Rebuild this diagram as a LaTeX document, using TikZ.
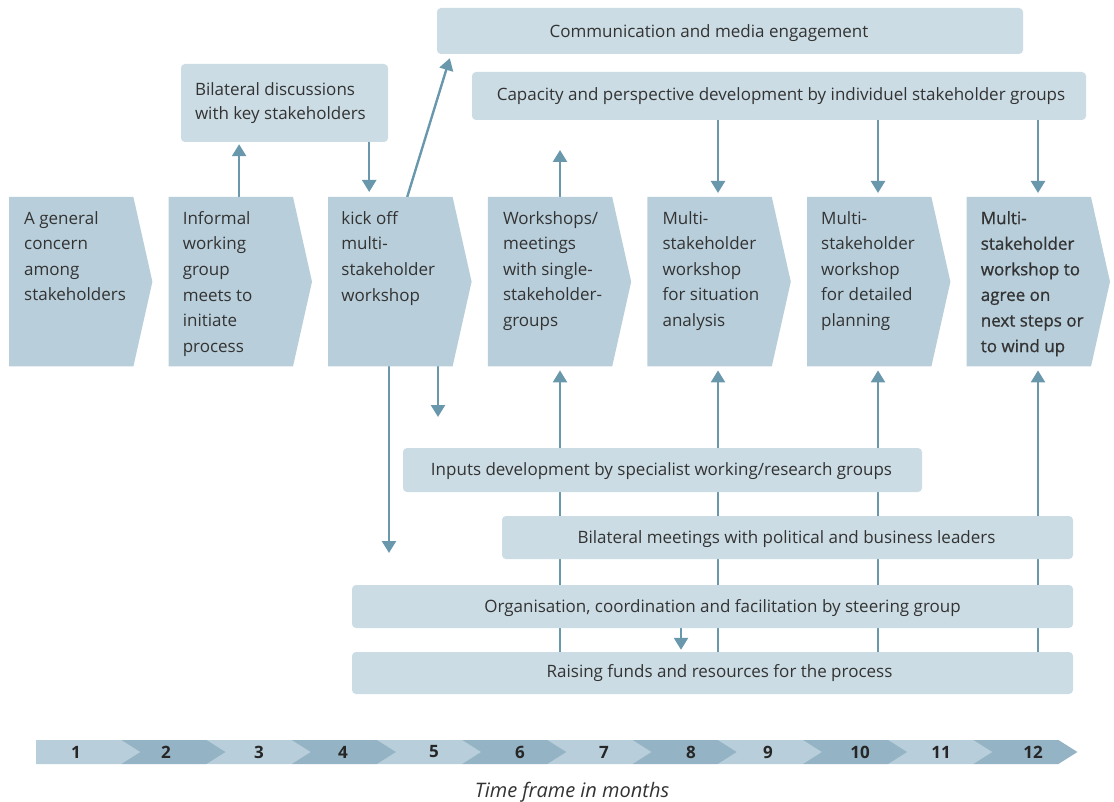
\documentclass[tikz,border=0pt]{standalone}
\usepackage{fontspec}
\setmainfont{Open Sans}
\newfontfamily\medfont[FakeBold=0.8]{Open Sans}
\usetikzlibrary{arrows.meta,calc}
\definecolor{chevfill}{HTML}{B8CEDA}
\definecolor{boxfill}{HTML}{CBDCE4}
\definecolor{tldark}{HTML}{94B3C4}
\definecolor{arrowcol}{HTML}{6998AC}
\definecolor{txt}{HTML}{333333}
\pgfdeclarelayer{background}
\pgfsetlayers{background,main}

\begin{document}
\begin{tikzpicture}[x=1pt,y=-1pt,
  font=\fontsize{17}{25.6}\selectfont, text=txt,
  chev/.style={minimum width=124pt, minimum height=169pt, inner sep=0pt, anchor=north west},
  chevtext/.style={anchor=north west, inner sep=0pt, align=left},
  bar/.style={fill=boxfill, rounded corners=4pt, inner sep=0pt},
  bartext/.style={inner sep=0pt},
  arr/.style={draw=arrowcol, line width=2.4pt, -{Triangle[width=14pt,length=12pt]}},
  tlnum/.style={font=\fontsize{17}{20}\selectfont\bfseries, text=black!85},
]
\useasboundingbox (0,0) rectangle (1114,802);

% process chevrons
\foreach \i/\lx in {1/9,2/168.6,3/328.2,4/487.8,5/647.4,6/807,7/966.6}{
  \node[chev] (c\i) at (\lx,197) {};
  \fill[chevfill] (c\i.north west) -- (c\i.north east) -- ($(c\i.east)+(19,0)$)
     -- (c\i.south east) -- (c\i.south west) -- cycle;
}
\node[chevtext] (t1) at ($(c1.north west)+(15,14)$) {A general\\concern\\among\\stakeholders};
\node[chevtext] (t2) at ($(c2.north west)+(14,14)$) {Informal\\working\\group\\meets to\\initiate\\process};
\node[chevtext] (t3) at ($(c3.north west)+(13,14)$) {kick off\\multi-\\stakeholder\\workshop};
\node[chevtext] (t4) at ($(c4.north west)+(15,14)$) {Workshops/\\meetings\\with single-\\stakeholder-\\groups};
\node[chevtext] (t5) at ($(c5.north west)+(15,14)$) {Multi-\\stakeholder\\workshop\\for situation\\analysis};
\node[chevtext] (t6) at ($(c6.north west)+(14,14)$) {Multi-\\stakeholder\\workshop\\for detailed\\planning};
\node[chevtext, font=\fontsize{17}{25.6}\selectfont\medfont] (t7) at ($(c7.north west)+(14,14)$) {Multi-\\stakeholder\\workshop to\\agree on\\next steps or\\to wind up};

% activity bars
\node[bar, minimum width=586pt, minimum height=46pt] (comm) at (730,31) {};
\node[bartext] at ($(comm.center)+(-21,2)$) {Communication and media engagement};
\node[bar, minimum width=614pt, minimum height=48pt] (cap) at (779,96) {};
\node[bartext] at ($(cap.center)+(2,0)$) {Capacity and perspective development by individuel stakeholder groups};
\node[bar, minimum width=207pt, minimum height=78pt] (bilat) at (284.5,103) {};
\node[bartext, anchor=west, align=left] at ($(bilat.west)+(14,0)$) {Bilateral discussions\\[-1pt]with key stakeholders};
\node[bar, minimum width=519pt, minimum height=44pt] (inputs) at (662.5,470) {};
\node[bartext] at ($(inputs.center)+(-1,1)$) {Inputs development by specialist working/research groups};
\node[bar, minimum width=571pt, minimum height=43pt] (bilatmeet) at (787.5,537.5) {};
\node[bartext] at ($(bilatmeet.center)+(-1,2)$) {Bilateral meetings with political and business leaders};
\node[bar, minimum width=721pt, minimum height=43pt] (org) at (712.5,606.5) {};
\node[bartext] at ($(org.center)+(10,1.5)$) {Organisation, coordination and facilitation by steering group};
\node[bar, minimum width=721pt, minimum height=42pt] (funds) at (712.5,673) {};
\node[bartext] at ($(funds.center)+(7,0.5)$) {Raising funds and resources for the process};

% connectors
\coordinate (x2) at ($(c2.north west)+(70.5,0)$);
\coordinate (x3in) at ($(c3.north west)+(41,0)$);
\coordinate (x3out) at ($(c3.north west)+(79,0)$);
\coordinate (upfree) at (560,150);
\coordinate (down1) at (389,553);
\coordinate (down2) at (438,417);
\begin{pgfonlayer}{background}
  \draw[arr, shorten >=2pt] (x2) -- (x2 |- bilat.south);
  \draw[arr, shorten >=5pt] (bilat.south -| x3in) -- (x3in);
  \draw[arr] (x3out) -- ($(comm.south west)+(13,4)$);
  \draw[arr] (c4.north -| upfree) -- (upfree);
  \foreach \k/\xx in {5/718,6/878,7/1038}{
    \draw[arr, shorten >=4pt] (cap.south -| \xx,0) -- (c\k.north -| \xx,0);
  }
  \draw[arr] (c3.south -| down1) -- (down1);
  \draw[arr] (c3.south -| down2) -- (down2);
  \foreach \k/\xx in {4/560,5/718,6/878,7/1038}{
    \draw[arr, shorten >=4pt] (funds.north -| \xx,0) -- (c\k.south -| \xx,0);
  }
  \draw[arr, shorten >=2pt] (org.south -| 681,0) -- (funds.north -| 681,0);
\end{pgfonlayer}

% time line
\foreach \i in {12,11,...,1}{
  \pgfmathsetmacro{\L}{36+85.2*(\i-1)}
  \pgfmathsetmacro{\R}{\L+85.2}
  \pgfmathtruncatemacro{\odd}{mod(\i,2)}
  \ifnum\odd=1 \def\segcol{chevfill}\else\def\segcol{tldark}\fi
  \fill[\segcol] (\L,740) -- (\R,740) -- (\R+19,752) -- (\R,764) -- (\L,764) -- cycle;
}
\foreach \n/\xx in {1/76,2/166,3/259,4/343,5/434,6/520,7/604,8/691,9/768,10/860,11/941,12/1033}{
  \node[tlnum] (m\n) at (\xx,752) {\n};
}
\node[font=\fontsize{20}{24}\selectfont\itshape] (tfcap) at (572,792) {Time frame in months};
\end{tikzpicture}
\end{document}
